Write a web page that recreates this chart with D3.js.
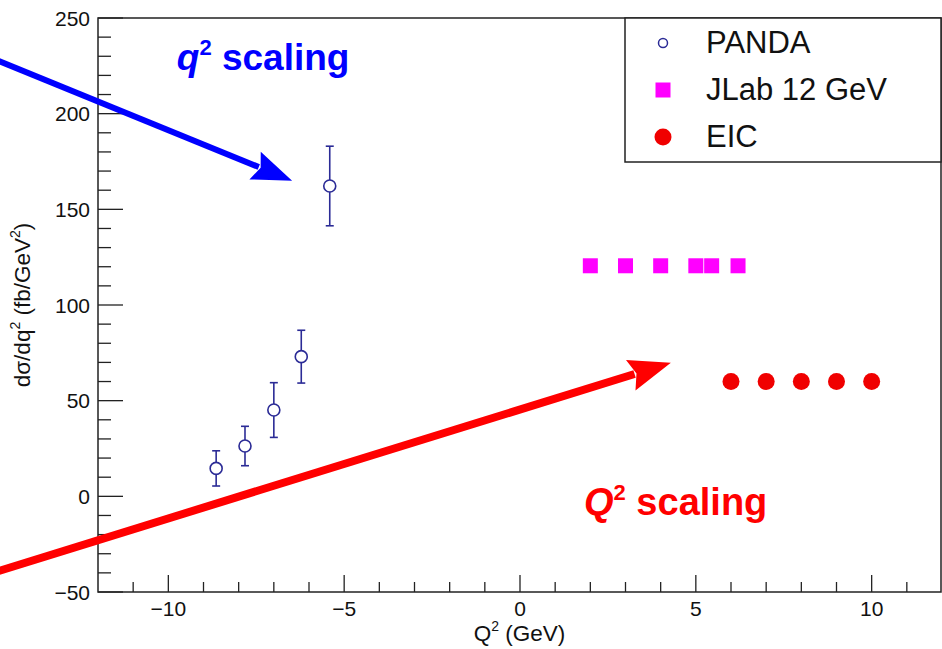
<!DOCTYPE html>
<html>
<head>
<meta charset="utf-8">
<script src="https://cdn.jsdelivr.net/npm/d3@7"></script>
<style>
  body { margin: 0; background: #fff; }
  svg { display: block; }
  text { font-family: "Liberation Sans", Arial, Helvetica, sans-serif; }
</style>
</head>
<body>
<div id="chart"></div>
<script>
// données
const pandaQ2 = [-8.64, -7.82, -7.0, -6.22, -5.41];
const pandaSigma = [14.6, 26.3, 45.1, 73.0, 162.2];
const pandaErr = [9.2, 10.3, 14.3, 13.8, 20.8];
const jlabQ2 = [2, 3, 4, 5, 5.45, 6.2];
const jlabSigma = [120.5, 120.5, 120.5, 120.5, 120.5, 120.5];
const eicQ2 = [6, 7, 8, 9, 10];
const eicSigma = [60, 60, 60, 60, 60];

const xMajor = [-10, -5, 0, 5, 10];
const xMinor = d3.range(-12, 12.01, 1);
const yMajor = [-50, 0, 50, 100, 150, 200, 250];
const yMinor = d3.range(-50, 250.01, 10);

const legendNames = ["PANDA", "JLab 12 GeV", "EIC"];

// flèches (coordonnées en unités des axes)
const arrowBlue = [[-14.82, 227.5], [-6.48, 165.0]];
const arrowRed = [[-14.82, -39.0], [4.29, 69.8]];

const W = 942, H = 649;
const pL = 98, pR = 941, pT = 18, pB = 592;

const svg = d3.select("#chart").append("svg")
    .attr("width", W).attr("height", H);

const x = d3.scaleLinear().domain([-12, 12]).range([pL, 942]);
const y = d3.scaleLinear().domain([-50, 250]).range([pB, pT]);

const axisColor = "#222";

//cadre
svg.append("rect")
    .attr("x", pL).attr("y", pT)
    .attr("width", pR - pL).attr("height", pB - pT)
    .attr("fill", "none").attr("stroke", axisColor).attr("stroke-width", 1.5);

//graduations axe x (vers l'intérieur)
const gx = svg.append("g");
gx.selectAll(".minx").data(xMinor.filter(v => !xMajor.includes(v) && v > -12 && v < 12)).enter()
    .append("line")
    .attr("x1", d => x(d)).attr("x2", d => x(d))
    .attr("y1", pB).attr("y2", pB - 10)
    .attr("stroke", axisColor).attr("stroke-width", 1.3);
gx.selectAll(".majx").data(xMajor).enter()
    .append("line")
    .attr("x1", d => x(d)).attr("x2", d => x(d))
    .attr("y1", pB).attr("y2", pB - 17)
    .attr("stroke", axisColor).attr("stroke-width", 1.3);
gx.selectAll(".labx").data(xMajor).enter()
    .append("text")
    .attr("x", d => x(d)).attr("y", 616)
    .attr("text-anchor", "middle")
    .attr("font-size", "21px")
    .attr("fill", "#111")
    .text(d => d < 0 ? "\u2212" + Math.abs(d) : d);

//graduations axe y
const gy = svg.append("g");
gy.selectAll(".miny").data(yMinor.filter(v => !yMajor.includes(v))).enter()
    .append("line")
    .attr("x1", pL).attr("x2", pL + 13)
    .attr("y1", d => y(d)).attr("y2", d => y(d))
    .attr("stroke", axisColor).attr("stroke-width", 1.3);
gy.selectAll(".majy").data(yMajor).enter()
    .append("line")
    .attr("x1", pL).attr("x2", pL + 25)
    .attr("y1", d => y(d)).attr("y2", d => y(d))
    .attr("stroke", axisColor).attr("stroke-width", 1.3);
gy.selectAll(".laby").data(yMajor).enter()
    .append("text")
    .attr("x", 90).attr("y", d => y(d))
    .attr("dy", "0.36em")
    .attr("text-anchor", "end")
    .attr("font-size", "21px")
    .attr("fill", "#111")
    .text(d => d < 0 ? "\u2212" + Math.abs(d) : d);

//titres des axes
const xt = svg.append("text")
    .attr("x", (pL + pR) / 2).attr("y", 641)
    .attr("text-anchor", "middle")
    .attr("font-size", "22.5px").attr("fill", "#111");
xt.append("tspan").text("Q");
xt.append("tspan").attr("font-size", "14px").attr("dy", "-10").text("2");
xt.append("tspan").attr("dy", "10").text(" (GeV)");

const yt = svg.append("text")
    .attr("transform", "translate(30," + ((pT + pB) / 2) + ") rotate(-90)")
    .attr("text-anchor", "middle")
    .attr("font-size", "22.5px").attr("fill", "#111");
yt.append("tspan").text("d\u03c3/dq");
yt.append("tspan").attr("font-size", "14px").attr("dy", "-10").text("2");
yt.append("tspan").attr("dy", "10").text(" (fb/GeV");
yt.append("tspan").attr("font-size", "14px").attr("dy", "-10").text("2");
yt.append("tspan").attr("dy", "10").text(")");

//PANDA : barres d'erreur + cercles ouverts
const pandaColor = "#2b2b96";
const rP = 6;
const panda = pandaQ2.map((q, i) => ({q: q, s: pandaSigma[i], e: pandaErr[i]}));
const gp = svg.append("g").attr("stroke", pandaColor).attr("stroke-width", 1.6);
panda.forEach(d => {
    const cx = x(d.q), cy = y(d.s);
    gp.append("line").attr("x1", cx).attr("x2", cx)
        .attr("y1", y(d.s + d.e)).attr("y2", cy - rP);
    gp.append("line").attr("x1", cx).attr("x2", cx)
        .attr("y1", cy + rP).attr("y2", y(d.s - d.e));
    gp.append("line").attr("x1", cx - 4).attr("x2", cx + 4)
        .attr("y1", y(d.s + d.e)).attr("y2", y(d.s + d.e));
    gp.append("line").attr("x1", cx - 4).attr("x2", cx + 4)
        .attr("y1", y(d.s - d.e)).attr("y2", y(d.s - d.e));
    gp.append("circle").attr("cx", cx).attr("cy", cy).attr("r", rP)
        .attr("fill", "none");
});

//JLab : carrés magenta
svg.selectAll(".jlab").data(jlabQ2.map((q, i) => [q, jlabSigma[i]])).enter()
    .append("rect")
    .attr("x", d => x(d[0]) - 7.5).attr("y", d => y(d[1]) - 7.5)
    .attr("width", 15).attr("height", 15)
    .attr("fill", "#ff00ff");

//EIC : cercles rouges
svg.selectAll(".eic").data(eicQ2.map((q, i) => [q, eicSigma[i]])).enter()
    .append("circle")
    .attr("cx", d => x(d[0])).attr("cy", d => y(d[1]))
    .attr("r", 8.5)
    .attr("fill", "#f00000");

//flèches
function fleche(pts, color, lw, headL, headW) {
    const p0 = [x(pts[0][0]), y(pts[0][1])];
    const p1 = [x(pts[1][0]), y(pts[1][1])];
    const dx = p1[0] - p0[0], dy = p1[1] - p0[1];
    const len = Math.sqrt(dx * dx + dy * dy);
    const ux = dx / len, uy = dy / len;
    const bx = p1[0] - ux * headL, by = p1[1] - uy * headL;
    svg.append("line")
        .attr("x1", p0[0]).attr("y1", p0[1])
        .attr("x2", bx + ux * 4).attr("y2", by + uy * 4)
        .attr("stroke", color).attr("stroke-width", lw);
    svg.append("path")
        .attr("d", "M" + p1[0] + "," + p1[1]
            + "L" + (bx - uy * headW) + "," + (by + ux * headW)
            + "L" + (bx + ux * 6) + "," + (by + uy * 6)
            + "L" + (bx + uy * headW) + "," + (by - ux * headW) + "Z")
        .attr("fill", color);
}
fleche(arrowBlue, "#0000ff", 6, 40, 15);
fleche(arrowRed, "#ff0000", 8, 42, 16);

//annotations
const tq = svg.append("text")
    .attr("x", x(-9.76)).attr("y", y(222.8))
    .attr("font-size", "37px").attr("font-weight", "bold").attr("fill", "#0000ff");
tq.append("tspan").attr("font-style", "italic").text("q");
tq.append("tspan").attr("font-size", "22px").attr("dy", "-15").text("2");
tq.append("tspan").attr("dy", "15").text(" scaling");

const tQ = svg.append("text")
    .attr("x", x(1.82)).attr("y", y(-9.8))
    .attr("font-size", "38px").attr("font-weight", "bold").attr("fill", "#ff0000");
tQ.append("tspan").attr("font-style", "italic").text("Q");
tQ.append("tspan").attr("font-size", "22px").attr("dy", "-15").text("2");
tQ.append("tspan").attr("dy", "15").text(" scaling");

//légende
const leg = svg.append("g");
leg.append("rect")
    .attr("x", 625).attr("y", pT)
    .attr("width", pR - 625).attr("height", 162 - pT)
    .attr("fill", "#fff").attr("stroke", axisColor).attr("stroke-width", 1.5);
const legY = [43, 90, 137];
leg.append("circle").attr("cx", 663).attr("cy", legY[0]).attr("r", 4.5)
    .attr("fill", "none").attr("stroke", pandaColor).attr("stroke-width", 1.5);
leg.append("rect").attr("x", 663 - 7.5).attr("y", legY[1] - 7.5)
    .attr("width", 15).attr("height", 15).attr("fill", "#ff00ff");
leg.append("circle").attr("cx", 663).attr("cy", legY[2]).attr("r", 8.5)
    .attr("fill", "#f00000");
leg.selectAll(".legtxt").data(legendNames).enter()
    .append("text")
    .attr("x", 706).attr("y", (d, i) => legY[i] + 10)
    .attr("font-size", "31px").attr("fill", "#111")
    .text(d => d);
</script>
</body>
</html>
